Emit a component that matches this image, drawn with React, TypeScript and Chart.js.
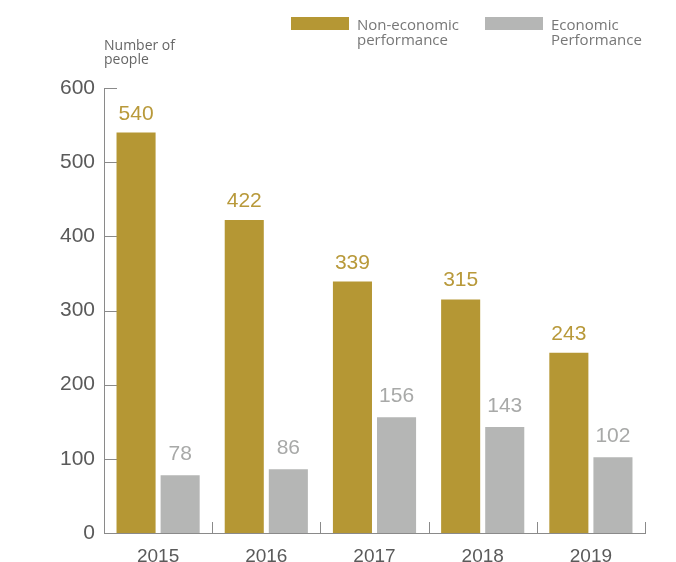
import React, { useEffect, useRef } from 'react';
import { Chart, registerables } from 'chart.js';

Chart.register(...registerables);

const years = ['2015', '2016', '2017', '2018', '2019'];
const nonEconomic = [540, 422, 339, 315, 243];
const economic = [78, 86, 156, 143, 102];
const yMin = 0;
const yMax = 600;
const yStep = 100;
const seriesNames = [
  ['Non-economic', 'performance'],
  ['Economic', 'Performance'],
];
const axisTitle = ['Number of', 'people'];

const GOLD = '#B59734';
const GRAY = '#B5B6B5';
const GOLD_TEXT = '#B8993A';
const GRAY_TEXT = '#A8A9A8';
const AXIS = '#8A8A8A';
const TICK_TEXT = '#5A5A5A';

const decorPlugin = {
  id: 'decor',
  beforeDatasetsDraw(chart: any) {
    const ctx = chart.ctx;
    const area = chart.chartArea;
    const y = chart.scales.y;
    const x = chart.scales.x;
    ctx.save();
    ctx.strokeStyle = AXIS;
    ctx.lineWidth = 1;
    // inward y ticks
    y.ticks.forEach((t: any) => {
      const py = Math.round(y.getPixelForValue(t.value)) + 0.5;
      if (t.value === yMin) return;
      ctx.beginPath();
      ctx.moveTo(area.left, py);
      ctx.lineTo(area.left + 13, py);
      ctx.stroke();
    });
    // inward x ticks at category boundaries
    const n = years.length;
    for (let i = 1; i <= n; i++) {
      const px = Math.round(x.getPixelForValue(i - 0.5)) + 0.5;
      ctx.beginPath();
      ctx.moveTo(px, area.bottom);
      ctx.lineTo(px, area.bottom - 11);
      ctx.stroke();
    }
    ctx.restore();
  },
  afterDatasetsDraw(chart: any) {
    const ctx = chart.ctx;
    ctx.save();
    ctx.font = '21px "Liberation Sans", Arial, sans-serif';
    ctx.textAlign = 'center';
    ctx.textBaseline = 'alphabetic';
    chart.data.datasets.forEach((ds: any, di: number) => {
      const meta = chart.getDatasetMeta(di);
      ctx.fillStyle = di === 0 ? GOLD_TEXT : GRAY_TEXT;
      meta.data.forEach((bar: any, i: number) => {
        ctx.fillText(String(ds.data[i]), bar.x, bar.y - (di === 0 ? 13 : 15));
      });
    });

    // axis title
    ctx.fillStyle = '#666666';
    ctx.textAlign = 'left';
    ctx.font = '14px "Open Sans", sans-serif';
    ctx.fillText(axisTitle[0], 104, 50);
    ctx.fillText(axisTitle[1], 104, 64);

    // legend
    const colors = [GOLD, GRAY];
    const boxX = [291, 485];
    ctx.font = '15px "Open Sans", sans-serif';
    seriesNames.forEach((lines, i) => {
      ctx.fillStyle = colors[i];
      ctx.fillRect(boxX[i], 17, 58, 13);
      ctx.fillStyle = '#777777';
      ctx.fillText(lines[0], boxX[i] + 66, 30);
      ctx.fillText(lines[1], boxX[i] + 66, 45);
    });
    ctx.restore();
  },
};

export default function App() {
  const ref = useRef<HTMLCanvasElement>(null);
  useEffect(() => {
    if (!ref.current) return;
    const chart = new Chart(ref.current, {
      type: 'bar',
      data: {
        labels: years,
        datasets: [
          {
            label: seriesNames[0].join(' '),
            data: nonEconomic,
            backgroundColor: GOLD,
            categoryPercentage: 0.815,
            barPercentage: 0.886,
          },
          {
            label: seriesNames[1].join(' '),
            data: economic,
            backgroundColor: GRAY,
            categoryPercentage: 0.815,
            barPercentage: 0.886,
          },
        ],
      },
      options: {
        responsive: false,
        animation: false,
        devicePixelRatio: 1,
        layout: { padding: { left: 0, right: 31, top: 88, bottom: 0 } },
        plugins: { legend: { display: false }, tooltip: { enabled: false } },
        scales: {
          x: {
            grid: { display: false, drawTicks: false },
            border: { display: true, color: AXIS, width: 1 },
            ticks: {
              color: TICK_TEXT,
              font: { family: '"Liberation Sans", Arial, sans-serif', size: 19 },
              padding: 12,
              maxRotation: 0,
            },
            afterFit(scale: any) {
              scale.height = 29;
            },
          },
          y: {
            min: yMin,
            max: yMax,
            grid: { display: false, drawTicks: false },
            border: { display: true, color: AXIS, width: 1 },
            ticks: {
              stepSize: yStep,
              color: TICK_TEXT,
              font: { family: '"Liberation Sans", Arial, sans-serif', size: 21 },
              padding: 9,
            },
            afterFit(scale: any) {
              scale.width = 104;
            },
          },
        },
      },
      plugins: [decorPlugin],
    });
    return () => chart.destroy();
  }, []);
  return (
    <div style={{ position: 'absolute', left: 0, top: 0, width: 676, height: 562, background: '#fff' }}>
      <canvas ref={ref} width={676} height={562} style={{ width: 676, height: 562 }} />
    </div>
  );
}
